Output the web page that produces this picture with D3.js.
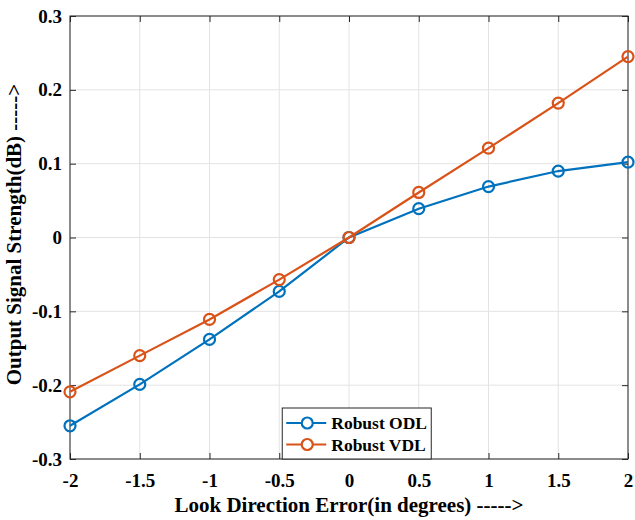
<!DOCTYPE html>
<html>
<head>
<meta charset="utf-8">
<script src="https://cdn.jsdelivr.net/npm/d3@7"></script>
<style>
  body { margin: 0; background: #fff; }
  text { font-family: "Liberation Serif", "Times New Roman", serif; font-weight: bold; fill: #000; }
</style>
</head>
<body>
<script>
// look direction error (degrees)
var errors = [-2, -1.5, -1, -0.5, 0, 0.5, 1, 1.5, 2];
var odl = [-0.255, -0.199, -0.138, -0.073, 0, 0.039, 0.069, 0.090, 0.102];
var vdl = [-0.209, -0.160, -0.111, -0.057, 0, 0.061, 0.121, 0.182, 0.245];
var xTicks = [-2, -1.5, -1, -0.5, 0, 0.5, 1, 1.5, 2];
var yTicks = [-0.3, -0.2, -0.1, 0, 0.1, 0.2, 0.3];
var seriesNames = ["Robust ODL", "Robust VDL"];
var colors = ["#0072BD", "#D95319"];

var margin = {top: 16, right: 7, bottom: 61, left: 70},
    width = 635 - margin.left - margin.right,
    height = 520 - margin.top - margin.bottom;

var svg = d3.select("body").append("svg")
    .attr("width", 635)
    .attr("height", 520)
  .append("g")
    .attr("transform", "translate(" + margin.left + "," + margin.top + ")");

var x = d3.scaleLinear().domain([-2, 2]).range([0, width]);
var y = d3.scaleLinear().domain([-0.3, 0.3]).range([height, 0]);

// grid
svg.append("g").selectAll("line")
    .data(xTicks).enter().append("line")
    .attr("x1", function(d) { return x(d); })
    .attr("x2", function(d) { return x(d); })
    .attr("y1", 0).attr("y2", height)
    .attr("stroke", "#e3e3e3").attr("stroke-width", 1);
svg.append("g").selectAll("line")
    .data(yTicks).enter().append("line")
    .attr("y1", function(d) { return y(d); })
    .attr("y2", function(d) { return y(d); })
    .attr("x1", 0).attr("x2", width)
    .attr("stroke", "#e3e3e3").attr("stroke-width", 1);

// matlab style: plain hyphen, no leading zero dropped
function fmt(d) { return String(d); }

function styleAxis(g, noLabels) {
  g.select(".domain").remove();
  g.selectAll(".tick line").attr("stroke", "#262626").attr("stroke-width", 1);
  g.selectAll(".tick text").style("font-size", "19px");
  if (noLabels) g.selectAll(".tick text").remove();
}

svg.append("g")
    .attr("transform", "translate(0," + height + ")")
    .call(d3.axisBottom(x).tickValues(xTicks).tickSize(-6).tickPadding(15).tickFormat(fmt))
    .call(styleAxis);
svg.append("g")
    .call(d3.axisTop(x).tickValues(xTicks).tickSize(-6).tickFormat(""))
    .call(styleAxis, true);
svg.append("g")
    .call(d3.axisLeft(y).tickValues(yTicks).tickSize(-6).tickPadding(8).tickFormat(fmt))
    .call(styleAxis);
svg.append("g")
    .attr("transform", "translate(" + width + ",0)")
    .call(d3.axisRight(y).tickValues(yTicks).tickSize(-6).tickFormat(""))
    .call(styleAxis, true);

svg.append("rect")
    .attr("width", width).attr("height", height)
    .attr("fill", "none").attr("stroke", "#262626").attr("stroke-width", 1);

var line = d3.line()
    .x(function(d, i) { return x(errors[i]); })
    .y(function(d) { return y(d); });

[odl, vdl].forEach(function(s, k) {
  svg.append("path")
      .datum(s)
      .attr("fill", "none")
      .attr("stroke", colors[k])
      .attr("stroke-width", 2.2)
      .attr("d", line);
  svg.append("g").selectAll("circle")
      .data(s).enter().append("circle")
      .attr("cx", function(d, i) { return x(errors[i]); })
      .attr("cy", function(d) { return y(d); })
      .attr("r", 5.5)
      .attr("fill", "none")
      .attr("stroke", colors[k])
      .attr("stroke-width", 2.2);
});

// legend
var legend = svg.append("g")
    .attr("transform", "translate(" + (x(-0.5) + 3) + "," + (height - 51) + ")");
legend.append("rect")
    .attr("width", 149).attr("height", 51)
    .attr("fill", "#fff").attr("stroke", "#262626").attr("stroke-width", 1);
seriesNames.forEach(function(name, k) {
  var row = legend.append("g").attr("transform", "translate(0," + (15 + k * 21.5) + ")");
  row.append("line")
      .attr("x1", 4).attr("x2", 44)
      .attr("stroke", colors[k]).attr("stroke-width", 2.2);
  row.append("circle")
      .attr("cx", 25).attr("r", 5.5)
      .attr("fill", "#fff").attr("stroke", colors[k]).attr("stroke-width", 2.2);
  row.append("text")
      .attr("x", 49).attr("dy", "0.35em")
      .style("font-size", "17.5px")
      .text(name);
});

// axis labels
svg.append("text")
    .attr("x", width / 2).attr("y", height + 53)
    .attr("text-anchor", "middle")
    .style("font-size", "21px")
    .text("Look Direction Error(in degrees) ----->");
svg.append("text")
    .attr("transform", "translate(" + (-49) + "," + (y(0) - 3) + ") rotate(-90)")
    .attr("text-anchor", "middle")
    .style("font-size", "21px")
    .text("Output Signal Strength(dB) ----->");
</script>
</body>
</html>
